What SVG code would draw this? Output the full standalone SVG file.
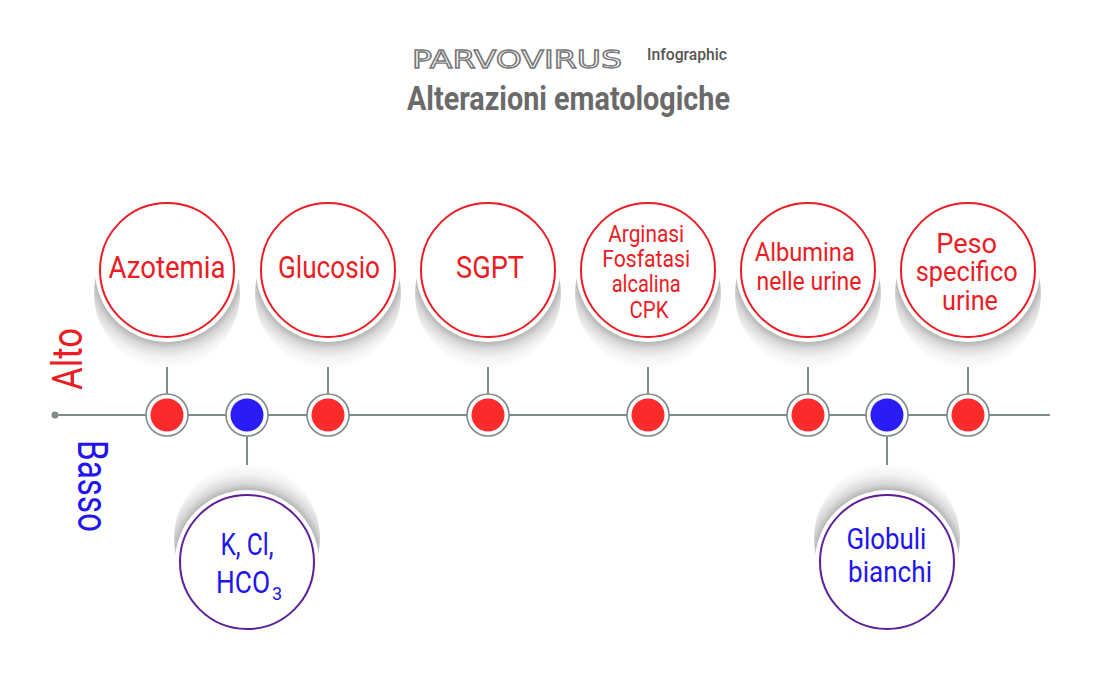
<svg xmlns="http://www.w3.org/2000/svg" width="1100" height="680" viewBox="0 0 1100 680">
<style>
.lbl{font-family:"Roboto","Liberation Sans",sans-serif;text-anchor:middle}
.red{fill:#ec1c24}
.blue{fill:#2114ee}
.ring{fill:#fff}
.top{fill:#fff;stroke:#ec1c24;stroke-width:2}
.bot{fill:#fff;stroke:#5e1e9a;stroke-width:2}
.shT{fill:url(#gT)}
.shB{fill:url(#gB)}
.conn{stroke:#7d8b89;stroke-width:2;fill:none}
.dot{fill:#fff;stroke:#7d8b89;stroke-width:1.6}
.dr{fill:#fb2a2b}
.db{fill:#2a1cf5}
</style>
<defs>
<radialGradient id="gT" cx="0.5" cy="0.336" fx="0.5" fy="0.336" r="0.68">
<stop offset="0" stop-color="#a0a0a0"/>
<stop offset="0.72" stop-color="#b4b4b4"/>
<stop offset="0.79" stop-color="#d9d9d9"/>
<stop offset="0.88" stop-color="#f3f3f3"/>
<stop offset="1" stop-color="#ffffff"/>
</radialGradient>
<radialGradient id="gB" cx="0.5" cy="0.664" fx="0.5" fy="0.664" r="0.68">
<stop offset="0" stop-color="#a0a0a0"/>
<stop offset="0.72" stop-color="#b4b4b4"/>
<stop offset="0.79" stop-color="#d9d9d9"/>
<stop offset="0.88" stop-color="#f3f3f3"/>
<stop offset="1" stop-color="#ffffff"/>
</radialGradient>
</defs>
<rect width="1100" height="680" fill="#fff"/>
<g id="title">
<text x="412" y="68" style="font-family:'DejaVu Sans',sans-serif" font-size="25" fill="#fff" stroke="#777" stroke-width="1.3" textLength="210" lengthAdjust="spacingAndGlyphs">PARVOVIRUS</text>
<text x="647" y="60" style="font-family:'Roboto',sans-serif" font-size="16" font-weight="500" fill="#555" textLength="80" lengthAdjust="spacingAndGlyphs">Infographic</text>
<text x="407" y="110" style="font-family:'Roboto',sans-serif" font-size="34" font-weight="bold" fill="#6a6a6a" textLength="323" lengthAdjust="spacingAndGlyphs">Alterazioni ematologiche</text>
</g>
<g id="axis-labels">
<text class="lbl red" font-size="42" transform="translate(82,359) rotate(-90)" textLength="62" lengthAdjust="spacingAndGlyphs">Alto</text>
<text class="lbl blue" font-size="42" transform="translate(78,486) rotate(90)" textLength="92" lengthAdjust="spacingAndGlyphs">Basso</text>
</g>
<g id="connectors">
<line class="conn" x1="55" y1="415" x2="1050" y2="415"/>
<circle cx="55" cy="415" r="3.5" fill="#7d8b89"/>
<line class="conn" x1="167" y1="340" x2="167" y2="395"/>
<line class="conn" x1="328" y1="340" x2="328" y2="395"/>
<line class="conn" x1="488" y1="340" x2="488" y2="395"/>
<line class="conn" x1="648" y1="340" x2="648" y2="395"/>
<line class="conn" x1="808" y1="340" x2="808" y2="395"/>
<line class="conn" x1="968" y1="340" x2="968" y2="395"/>
<line class="conn" x1="247" y1="435" x2="247" y2="492"/>
<line class="conn" x1="887" y1="435" x2="887" y2="492"/>
</g>
<g id="dots">
<circle class="dot" cx="167" cy="415" r="21"/><circle class="dr" cx="167" cy="415" r="16.5"/>
<circle class="dot" cx="247" cy="415" r="21"/><circle class="db" cx="247" cy="415" r="16.5"/>
<circle class="dot" cx="328" cy="415" r="21"/><circle class="dr" cx="328" cy="415" r="16.5"/>
<circle class="dot" cx="488" cy="415" r="21"/><circle class="dr" cx="488" cy="415" r="16.5"/>
<circle class="dot" cx="648" cy="415" r="21"/><circle class="dr" cx="648" cy="415" r="16.5"/>
<circle class="dot" cx="808" cy="415" r="21"/><circle class="dr" cx="808" cy="415" r="16.5"/>
<circle class="dot" cx="887" cy="415" r="21"/><circle class="db" cx="887" cy="415" r="16.5"/>
<circle class="dot" cx="968" cy="415" r="21"/><circle class="dr" cx="968" cy="415" r="16.5"/>
</g>
<g id="node-azotemia">
<circle class="shT" cx="167" cy="294" r="73"/><circle class="ring" cx="167" cy="270" r="72"/><circle class="top" cx="167" cy="270" r="67"/>
<text class="lbl red" x="167" y="278" font-size="32" textLength="117" lengthAdjust="spacingAndGlyphs">Azotemia</text>
</g>
<g id="node-glucosio">
<circle class="shT" cx="328" cy="294" r="73"/><circle class="ring" cx="328" cy="270" r="72"/><circle class="top" cx="328" cy="270" r="67"/>
<text class="lbl red" x="329" y="278" font-size="32" textLength="102" lengthAdjust="spacingAndGlyphs">Glucosio</text>
</g>
<g id="node-sgpt">
<circle class="shT" cx="488" cy="294" r="73"/><circle class="ring" cx="488" cy="270" r="72"/><circle class="top" cx="488" cy="270" r="67"/>
<text class="lbl red" x="490" y="278" font-size="32" textLength="68" lengthAdjust="spacingAndGlyphs">SGPT</text>
</g>
<g id="node-arginasi">
<circle class="shT" cx="648" cy="294" r="73"/><circle class="ring" cx="648" cy="270" r="72"/><circle class="top" cx="648" cy="270" r="67"/>
<text class="lbl red" font-size="23">
<tspan x="649" y="242" textLength="76" lengthAdjust="spacingAndGlyphs">Arginasi</tspan>
<tspan x="649" y="267" textLength="88" lengthAdjust="spacingAndGlyphs">Fosfatasi</tspan>
<tspan x="649" y="292" textLength="69" lengthAdjust="spacingAndGlyphs">alcalina</tspan>
<tspan x="649" y="318" textLength="39" lengthAdjust="spacingAndGlyphs">CPK</tspan>
</text>
</g>
<g id="node-albumina">
<circle class="shT" cx="808" cy="294" r="73"/><circle class="ring" cx="808" cy="270" r="72"/><circle class="top" cx="808" cy="270" r="67"/>
<text class="lbl red" font-size="26">
<tspan x="808" y="261" textLength="100" lengthAdjust="spacingAndGlyphs">Albumina</tspan>
<tspan x="809" y="290" textLength="105" lengthAdjust="spacingAndGlyphs">nelle urine</tspan>
</text>
</g>
<g id="node-peso">
<circle class="shT" cx="968" cy="294" r="73"/><circle class="ring" cx="968" cy="270" r="72"/><circle class="top" cx="968" cy="270" r="67"/>
<text class="lbl red" font-size="27">
<tspan x="970" y="253" textLength="61" lengthAdjust="spacingAndGlyphs">Peso</tspan>
<tspan x="970" y="281" textLength="102" lengthAdjust="spacingAndGlyphs">specifico</tspan>
<tspan x="970" y="310" textLength="56" lengthAdjust="spacingAndGlyphs">urine</tspan>
</text>
</g>
<g id="node-kclhco3">
<circle class="shB" cx="247" cy="538" r="73"/><circle class="ring" cx="247" cy="562" r="72"/><circle class="bot" cx="247" cy="562" r="67"/>
<text class="lbl blue" x="247" y="555" font-size="31" textLength="53" lengthAdjust="spacingAndGlyphs">K, Cl,</text>
<text class="blue" style="font-family:'Roboto',sans-serif" y="593" font-size="31"><tspan x="216" textLength="54" lengthAdjust="spacingAndGlyphs">HCO</tspan><tspan x="272" dy="7" font-size="18">3</tspan></text>
</g>
<g id="node-globuli">
<circle class="shB" cx="887" cy="538" r="73"/><circle class="ring" cx="887" cy="562" r="72"/><circle class="bot" cx="887" cy="562" r="67"/>
<text class="lbl blue" font-size="29">
<tspan x="890" y="549" textLength="80" lengthAdjust="spacingAndGlyphs">Globuli</tspan>
<tspan x="890" y="582" textLength="84" lengthAdjust="spacingAndGlyphs">bianchi</tspan>
</text>
</g>
</svg>
